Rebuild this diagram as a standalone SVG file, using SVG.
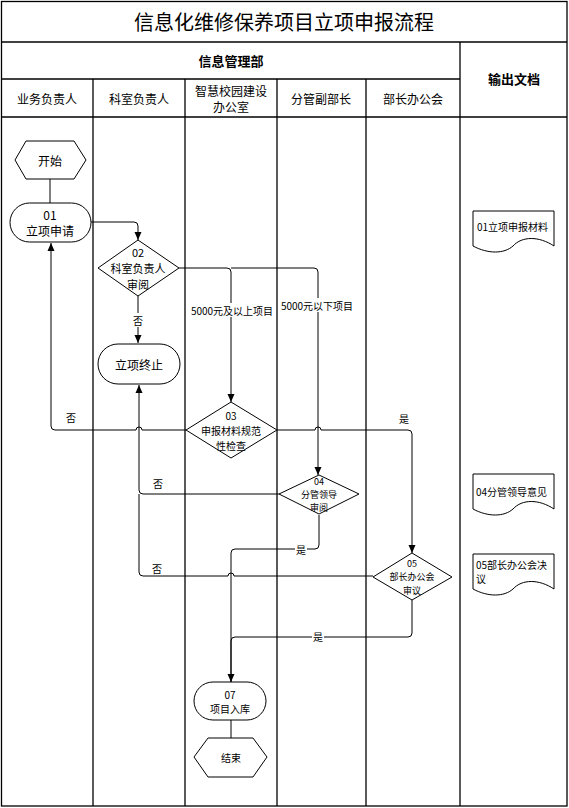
<svg xmlns="http://www.w3.org/2000/svg" width="569" height="808" viewBox="0 0 569 808">
<defs>
<style>
text{font-family:"Noto Sans CJK SC","Liberation Sans",sans-serif;fill:#000;text-anchor:middle;dominant-baseline:central}
.t{font-size:12px}
.m{font-size:11px}
.s{font-size:10px}
.x{font-size:9px}
.grid{stroke:#000;stroke-width:1.3;fill:none}
.n{fill:#fff;stroke:#000;stroke-width:1}
.c{fill:none;stroke:#000;stroke-width:1}
.lb{fill:#fff}
</style>
<marker id="arr" markerWidth="8" markerHeight="8" refX="8" refY="4" orient="auto" markerUnits="userSpaceOnUse"><path d="M0,0.5 L8,4 L0,7.5 z" fill="#000"/></marker>
</defs>
<rect width="569" height="808" fill="#fff"/>
<g id="table">
<rect class="grid" x="1.5" y="1.5" width="565.5" height="804.5"/>
<line class="grid" x1="1" y1="42" x2="567" y2="42"/>
<line class="grid" x1="1" y1="79" x2="460" y2="79"/>
<line class="grid" x1="1" y1="117" x2="567" y2="117"/>
<line class="grid" x1="460" y1="42" x2="460" y2="806"/>
<line class="grid" x1="93" y1="79" x2="93" y2="806"/>
<line class="grid" x1="185" y1="79" x2="185" y2="806"/>
<line class="grid" x1="277" y1="79" x2="277" y2="806"/>
<line class="grid" x1="366" y1="79" x2="366" y2="806"/>
<text x="284" y="21" style="font-size:20px">信息化维修保养项目立项申报流程</text>
<text x="231" y="60" style="font-size:13px;font-weight:bold">信息管理部</text>
<text x="514" y="78" style="font-size:13px;font-weight:bold">输出文档</text>
<text class="t" x="47" y="98">业务负责人</text>
<text class="t" x="139" y="98">科室负责人</text>
<text class="t" x="231" y="90">智慧校园建设</text>
<text class="t" x="231" y="106">办公室</text>
<text class="t" x="321" y="98">分管副部长</text>
<text class="t" x="413" y="98">部长办公会</text>
</g>
<g id="connectors">
<path class="c" d="M50,179 V203"/>
<path class="c" d="M91,222 H134 Q138,222 138,226 V240" marker-end="url(#arr)"/>
<path class="c" d="M179,268 H227 Q231,268 231,272 V402" marker-end="url(#arr)"/>
<path class="c" d="M231,268 H314 Q318,268 318,272 V475" marker-end="url(#arr)"/>
<path class="c" d="M138,296 V343" marker-end="url(#arr)"/>
<path class="c" d="M186,430 H142 A3,3 0 0 0 136,430 H55 Q51,430 51,426 V243" marker-end="url(#arr)"/>
<path class="c" d="M277,430 H315 A3,3 0 0 1 321,430 H408 Q412,430 412,434 V553" marker-end="url(#arr)"/>
<path class="c" d="M279,494 H143 Q139,494 139,490 V385" marker-end="url(#arr)"/>
<path class="c" d="M319,515 V545 Q319,549 315,549 H235 Q231,549 231,553 V682" marker-end="url(#arr)"/>
<path class="c" d="M373,576 H234 A3,3 0 0 0 228,576 H143 Q139,576 139,572 V494"/>
<path class="c" d="M412,600 V633 Q412,637 408,637 H235 Q231,637 231,641 V682"/>
<path class="c" d="M231,720 V738"/>
<rect class="lb" x="189" y="303" width="86" height="14"/>
<text class="s" x="232" y="310">5000元及以上项目</text>
<rect class="lb" x="279" y="298" width="76" height="14"/>
<text class="s" x="317" y="305">5000元以下项目</text>
<rect class="lb" x="132" y="313" width="12" height="14"/>
<text class="s" x="138" y="320">否</text>
<text class="s" x="71" y="417">否</text>
<text class="s" x="404" y="418">是</text>
<text class="s" x="158" y="483">否</text>
<rect class="lb" x="295" y="542" width="12" height="14"/>
<text class="s" x="301" y="549">是</text>
<text class="s" x="157" y="568">否</text>
<rect class="lb" x="312" y="630" width="12" height="14"/>
<text class="s" x="318" y="636">是</text>
</g>
<g id="start">
<polygon class="n" points="15,160 26,141 74,141 86,160 74,179 26,179"/>
<text class="t" x="50" y="160">开始</text>
</g>
<g id="n01">
<rect class="n" x="10" y="203" width="81" height="39" rx="19.5"/>
<text class="t" x="50" y="214">01</text>
<text class="t" x="50" y="230">立项申请</text>
</g>
<g id="n02">
<polygon class="n" points="98,268 138,240 179,268 138,296"/>
<text class="m" x="138" y="252">02</text>
<text class="m" x="138" y="268">科室负责人</text>
<text class="m" x="138" y="284">审阅</text>
</g>
<g id="stop">
<rect class="n" x="98" y="344" width="82" height="40" rx="20"/>
<text class="t" x="139" y="364">立项终止</text>
</g>
<g id="n03">
<polygon class="n" points="186,430 231,402 277,430 231,458"/>
<text class="s" x="231" y="415">03</text>
<text class="s" x="231" y="430">申报材料规范</text>
<text class="s" x="231" y="445">性检查</text>
</g>
<g id="n04">
<polygon class="n" points="279,494 319,475 359,494 319,514"/>
<text class="x" x="319" y="481">04</text>
<text class="x" x="319" y="494">分管领导</text>
<text class="x" x="319" y="507">审阅</text>
</g>
<g id="n05">
<polygon class="n" points="373,577 412,553 452,577 412,600"/>
<text class="x" x="412" y="563">05</text>
<text class="x" x="412" y="576.5">部长办公会</text>
<text class="x" x="412" y="590">审议</text>
</g>
<g id="n07">
<rect class="n" x="194" y="682" width="72" height="38" rx="19"/>
<text class="s" x="230" y="694">07</text>
<text class="s" x="230" y="708">项目入库</text>
</g>
<g id="end">
<polygon class="n" points="194,757 208,738 253,738 267,757 253,777 208,777"/>
<text class="s" x="231" y="757">结束</text>
</g>
<g id="doc01">
<path class="n" d="M473,211 H554 V246 C539,236 522,236 513,246 C504,254 488,254 473,246 Z"/>
<text class="s" x="477" y="226" style="text-anchor:start">01立项申报材料</text>
</g>
<g id="doc04">
<path class="n" d="M473,474 H554 V509 C539,499 522,499 513,509 C504,517 488,517 473,509 Z"/>
<text class="s" x="476" y="491" style="text-anchor:start">04分管领导意见</text>
</g>
<g id="doc05">
<path class="n" d="M473,554 H554 V589 C539,579 522,579 513,589 C504,597 488,597 473,589 Z"/>
<text class="s" x="476" y="564" style="text-anchor:start">05部长办公会决</text>
<text class="s" x="476" y="578" style="text-anchor:start">议</text>
</g>
</svg>
